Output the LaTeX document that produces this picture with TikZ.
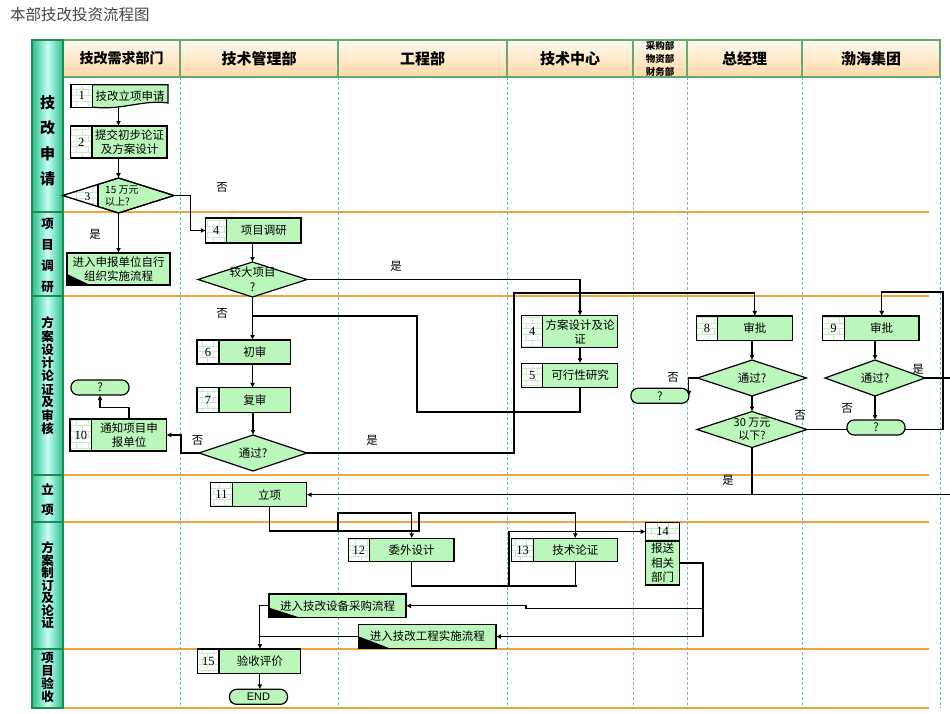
\documentclass[tikz,border=0pt]{standalone}
\usepackage{fontspec}
\newfontfamily\cjk{Noto Sans CJK SC}
\newfontfamily\latsf{Liberation Sans}
\newfontfamily\numrm{Liberation Serif}
\usetikzlibrary{arrows.meta,shapes.geometric,patterns}
\definecolor{boxgreen}{RGB}{187,247,187}
\definecolor{brickgreen}{RGB}{200,235,200}
\definecolor{lanegold}{RGB}{240,165,60}
\definecolor{dashcyan}{RGB}{90,200,200}
\definecolor{headgreen}{RGB}{100,170,110}
\definecolor{headtop}{RGB}{255,250,240}
\definecolor{headbot}{RGB}{255,215,165}
\definecolor{stripdark}{RGB}{40,190,140}
\definecolor{striplight}{RGB}{200,255,245}
\definecolor{stripline}{RGB}{30,140,80}
\definecolor{titlegray}{RGB}{70,70,70}
\newcommand{\boxfont}{\cjk\fontsize{11.5}{14.5}\selectfont}
\newcommand{\smallfont}{\cjk\fontsize{10}{11.5}\selectfont}
\newcommand{\headfont}{\cjk\bfseries\fontsize{15}{18}\selectfont}
\newcommand{\cellfont}{\numrm\fontsize{12.5}{14}\selectfont}
\tikzset{
  txtcell/.style={draw, line width=1.2pt, fill=boxgreen, align=center, inner sep=1pt, outer sep=0pt, font=\boxfont},
  numcell/.style={draw, line width=1.2pt, preaction={fill=white}, pattern=bricks, pattern color=brickgreen, inner sep=0pt, outer sep=0pt, anchor=east, font=\cellfont},
  dia/.style={diamond, draw, line width=1.2pt, fill=boxgreen, inner sep=0pt, outer sep=0pt},
  term/.style={draw, line width=1.2pt, fill=boxgreen, rounded corners=7pt, minimum width=58pt, minimum height=15pt, inner sep=0pt, outer sep=0pt, font=\boxfont},
  exitbox/.style 2 args={txtcell, path picture={\fill[black] (path picture bounding box.south west) -- ++(0pt,#1) -- ++(#2,-#1) -- cycle;}},
  lbl/.style={font=\boxfont, inner sep=0pt},
  lanechar/.style={font=\cjk\bfseries\fontsize{12.5}{13}\selectfont, inner sep=0pt},
  flow/.style={line width=1.1pt, ->},
  link/.style={line width=1.1pt}
}

\begin{document}
\begin{tikzpicture}[x=1pt,y=-1pt,>={Latex[length=5pt,width=5pt]}]
  \useasboundingbox (0,0) rectangle (950,713);
  \clip (0,0) rectangle (950,713);
  \fill[white] (0,0) rectangle (950,713);
  \node[anchor=west, inner sep=0pt, text=titlegray, font=\cjk\fontsize{15.5}{18}\selectfont] (title) at (10,15) {本部技改投资流程图};

  \shade[top color=headtop, bottom color=headbot] (63,40) rectangle (940,77);
  \shade[left color=stripdark, right color=stripdark, middle color=striplight] (32,40) rectangle (63,708);
  \foreach \y in {212,296,475,522,649,708}
    \draw[lanegold, line width=1.2pt] (63,\y) -- (929,\y);
  \foreach \x in {180,338,507,633,687,802,940}
    \draw[dashcyan, line width=0.6pt, dash pattern=on 3pt off 2pt] (\x,77) -- (\x,708);
  \draw[headgreen, line width=1.3pt] (63,40) rectangle (940,77);
  \foreach \x in {180,338,507,633,687,802}
    \draw[headgreen, line width=1.3pt] (\x,40) -- (\x,77);
  \draw[stripline, line width=1.3pt] (32,40) rectangle (63,708);
  \foreach \y in {212,296,475,522,649}
    \draw[stripline, line width=1.3pt] (32,\y) -- (63,\y);

  \node[font=\cjk\bfseries\fontsize{14}{16}\selectfont] (h1) at (121.5,58.5) {技改需求部门};
  \node[font=\headfont] (h2) at (259,58.5) {技术管理部};
  \node[font=\headfont] (h3) at (422.5,58.5) {工程部};
  \node[font=\headfont] (h4) at (570,58.5) {技术中心};
  \node[font=\cjk\bfseries\fontsize{9.5}{12.8}\selectfont, align=center, inner sep=0pt] (h5) at (660,58.7) {采购部\\物资部\\财务部};
  \node[font=\headfont] (h6) at (744.5,58.5) {总经理};
  \node[font=\headfont] (h7) at (871,58.5) {渤海集团};

  \foreach \c [count=\i from 0] in {技,改,申,请}
    \node[lanechar, font=\cjk\bfseries\fontsize{15}{16}\selectfont] (la-\i) at (47.5,103+25.3*\i) {\c};
  \foreach \c [count=\i from 0] in {项,目,调,研}
    \node[lanechar] (lb-\i) at (47.5,224+20.9*\i) {\c};
  \foreach \c [count=\i from 0] in {方,案,设,计,论,证,及,审,核}
    \node[lanechar] (lc-\i) at (47.5,323+13.25*\i) {\c};
  \foreach \c [count=\i from 0] in {立,项}
    \node[lanechar] (ld-\i) at (47.5,489+21*\i) {\c};
  \foreach \c [count=\i from 0] in {方,案,制,订,及,论,证}
    \node[lanechar] (le-\i) at (47.5,548+12.45*\i) {\c};
  \foreach \c [count=\i from 0] in {项,目,验,收}
    \node[lanechar] (lf-\i) at (47.5,658+12.9*\i) {\c};

  \filldraw[fill=boxgreen, line width=1.2pt] (92.3,84.7) -- (168,84.7) -- (168,103)
    .. controls (145,99) and (120,111) .. (92.3,107) -- cycle;
  \node[txtcell, draw=none, fill=none, minimum width=75.7pt, minimum height=23.3pt] (n1) at (130.15,95.8) {技改立项申请};
  \node[numcell, minimum width=21.3pt, minimum height=23.3pt] (n1num) at (n1.west) {1};
  \node[txtcell, minimum width=75pt, minimum height=32pt] (n2) at (129.5,142) {提交初步论证\\及方案设计};
  \node[numcell, minimum width=21.3pt, minimum height=32pt] (n2num) at (n2.west) {2};

  \node[dia, minimum width=111pt, minimum height=35pt] (d3) at (118.5,195.5) {};
  \begin{scope}
    \clip (d3.west) -- (d3.north) -- (d3.east) -- (d3.south) -- cycle;
    \fill[white] (60,170) rectangle (98,220);
    \fill[pattern=bricks, pattern color=brickgreen] (60,170) rectangle (98,220);
    \draw[line width=1.2pt] (98,170) -- (98,220);
  \end{scope}
  \draw[line width=1.2pt] (d3.west) -- (d3.north) -- (d3.east) -- (d3.south) -- cycle;
  \node[font=\numrm\fontsize{11.5}{13}\selectfont, inner sep=0pt] (d3num) at (87.5,197) {3};
  \node[font=\smallfont, align=left, anchor=west, inner sep=0pt] (d3txt) at (105,196) {15 万元\\以上?};

  \node[exitbox={11pt}{23pt}, minimum width=103pt, minimum height=32pt] (ret1) at (118.5,269) {进入申报单位自行\\组织实施流程};

  \node[txtcell, minimum width=74.3pt, minimum height=25pt] (n4) at (263.9,230.5) {项目调研};
  \node[numcell, minimum width=21pt, minimum height=25pt] (n4num) at (n4.west) {4};
  \node[dia, minimum width=109pt, minimum height=35pt] (d4) at (252.5,279.5) {};
  \node[font=\boxfont, align=center, inner sep=0pt] (d4txt) at (252.5,279) {较大项目\\?};

  \node[txtcell, minimum width=71.7pt, minimum height=24pt] (n6) at (254.9,352) {初审};
  \node[numcell, minimum width=22pt, minimum height=24pt] (n6num) at (n6.west) {6};
  \node[txtcell, minimum width=71.7pt, minimum height=24.3pt] (n7) at (254.9,400) {复审};
  \node[numcell, minimum width=22pt, minimum height=24.3pt] (n7num) at (n7.west) {7};
  \node[dia, minimum width=108pt, minimum height=36pt] (d7) at (253,453) {};
  \node[font=\boxfont, inner sep=0pt] (d7txt) at (253,453) {通过?};

  \node[txtcell, minimum width=74.6pt, minimum height=32pt] (n10) at (129,435) {通知项目申\\报单位};
  \node[numcell, minimum width=21.7pt, minimum height=32pt] (n10num) at (n10.west) {10};
  \node[term] (t10) at (100,387.5) {?};

  \node[txtcell, minimum width=74.6pt, minimum height=32pt] (n4b) at (580,331.7) {方案设计及论\\证};
  \node[numcell, minimum width=21pt, minimum height=32pt] (n4bnum) at (n4b.west) {4};
  \node[txtcell, minimum width=74.6pt, minimum height=24.4pt] (n5) at (580,375.5) {可行性研究};
  \node[numcell, minimum width=21pt, minimum height=24.4pt] (n5num) at (n5.west) {5};

  \node[txtcell, minimum width=75pt, minimum height=24.7pt] (n8) at (754.8,328.3) {审批};
  \node[numcell, minimum width=20.6pt, minimum height=24.7pt] (n8num) at (n8.west) {8};
  \node[dia, minimum width=109pt, minimum height=36pt] (d8) at (752,378) {};
  \node[font=\boxfont, inner sep=0pt] (d8txt) at (752,378) {通过?};
  \node[term] (t8) at (659.9,395.8) {?};
  \node[dia, minimum width=110pt, minimum height=36pt] (d30) at (752,429.5) {};
  \node[font=\cjk\fontsize{11}{12.5}\selectfont, align=center, inner sep=0pt] (d30txt) at (752,429.5) {30 万元\\以下?};

  \node[txtcell, minimum width=74.7pt, minimum height=24.7pt] (n9) at (881.7,328.3) {审批};
  \node[numcell, minimum width=21.6pt, minimum height=24.7pt] (n9num) at (n9.west) {9};
  \node[dia, minimum width=100pt, minimum height=36pt] (d9) at (875,378) {};
  \node[font=\boxfont, inner sep=0pt] (d9txt) at (875,378) {通过?};
  \node[term] (t9) at (876,427.5) {?};

  \node[txtcell, minimum width=74.4pt, minimum height=24pt] (n11) at (269.5,494.7) {立项};
  \node[numcell, minimum width=21.6pt, minimum height=24pt] (n11num) at (n11.west) {11};
  \node[txtcell, minimum width=84.7pt, minimum height=23.4pt] (n12) at (411.7,550) {委外设计};
  \node[numcell, minimum width=21pt, minimum height=23.4pt] (n12num) at (n12.west) {12};
  \node[txtcell, minimum width=84pt, minimum height=23.4pt] (n13) at (575.3,550) {技术论证};
  \node[numcell, minimum width=21.6pt, minimum height=23.4pt] (n13num) at (n13.west) {13};
  \node[txtcell, minimum width=33.6pt, minimum height=44pt] (n14) at (662.5,563) {报送\\相关\\部门};
  \node[numcell, anchor=south, minimum width=33.6pt, minimum height=18.7pt] (n14num) at (n14.north) {14};

  \node[exitbox={10pt}{31pt}, minimum width=137pt, minimum height=23.7pt] (buy) at (337.5,605.8) {进入技改设备采购流程};
  \node[exitbox={12pt}{31pt}, minimum width=137.3pt, minimum height=23.6pt] (build) at (427.3,636.5) {进入技改工程实施流程};
  \node[txtcell, minimum width=81.7pt, minimum height=24.3pt] (n15) at (259.9,661.2) {验收评价};
  \node[numcell, minimum width=21.3pt, minimum height=24.3pt] (n15num) at (n15.west) {15};
  \node[term, font=\latsf\fontsize{11}{13}\selectfont] (tend) at (258.5,696.8) {END};

  \draw[flow] (d3.north |- n1num.south) -- (d3.north |- n2.north);
  \draw[flow] (d3.north |- n2.south) -- (d3.north);
  \draw[flow] (d3.east) -| ([xshift=-15pt]n4num.west) -- (n4num.west);
  \draw[flow] (d3.south) -- (ret1.north);
  \draw[flow] (d4.north |- n4.south) -- (d4.north);
  \draw[flow] (d4.east) -| (n4b.north);
  \draw[flow] (d4.south) -- (d4.south |- n6.north);
  \coordinate (j1) at (252.5,316);
  \draw[link] (n5.south) |- (417,412) |- (j1);
  \draw[flow] (d4.south |- n6.south) -- (d4.south |- n7.north);
  \draw[flow] (d7.north |- n7.south) -- (d7.north);
  \draw[flow] (d7.west) -- ++(-18,0) |- (n10.east);
  \draw[flow] (n10.north) -- ++(0,-11.7) -| (t10.south);
  \draw[flow] (d7.east) -| (514,293) -| (n8.north);
  \draw[flow] (n4b.south) -- (n5.north);
  \draw[flow] (d8.north |- n8.south) -- (d8.north);
  \draw[flow] (d8.west) -| (t8.east);
  \draw[flow] (d8.south) -- (d30.north);
  \draw[link] (d30.east) -- (d30.east -| t9.west);
  \draw[flow] (t9.east |- d30.east) -| (943,292) -| (n9.north);
  \draw[flow] (d9.north |- n9.south) -- (d9.north);
  \draw[flow] (d9.south) -- (d9.south |- t9.north);
  \draw[flow] (d9.east) -- (953,378) |- (n11.east);
  \draw[link] (d30.south) -- (d30.south |- n11.east);
  \draw[flow] (n11.south) |- (338,531) -- (338,513) -| (n12.north);
  \draw[flow] (n11.south) |- (419,531) -- (419,513) -| (n13.north);
  \draw[link] (n12.south) |- (577,586);
  \draw[link] (n13.south) -- ++(0,24.3);
  \draw[flow] (509,586) |- (n14num.west);
  \draw[flow] (n14.east) -| (703,636.5) -- (build.east);
  \draw[flow] (703,608.3) -- (526,608.3) -- (526,605.8) -- (buy.east);
  \draw[flow] (buy.west) -| (n15.north);
  \draw[link] (build.west) -- (build.west -| n15.north);
  \draw[flow] (n15.south) -- (n15.south |- tend.north);

  \node[lbl] (no1) at (222,187) {否};
  \node[lbl] (yes1) at (95,234) {是};
  \node[lbl] (yes2) at (396,266) {是};
  \node[lbl] (no2) at (222,313) {否};
  \node[lbl] (no3) at (197.5,440) {否};
  \node[lbl] (yes3) at (372,440) {是};
  \node[lbl] (no4) at (673,377) {否};
  \node[lbl] (no5) at (800,415.5) {否};
  \node[lbl] (yes4) at (918,369) {是};
  \node[lbl] (no6) at (847,408) {否};
  \node[lbl] (yes5) at (728,480) {是};
\end{tikzpicture}
\end{document}
